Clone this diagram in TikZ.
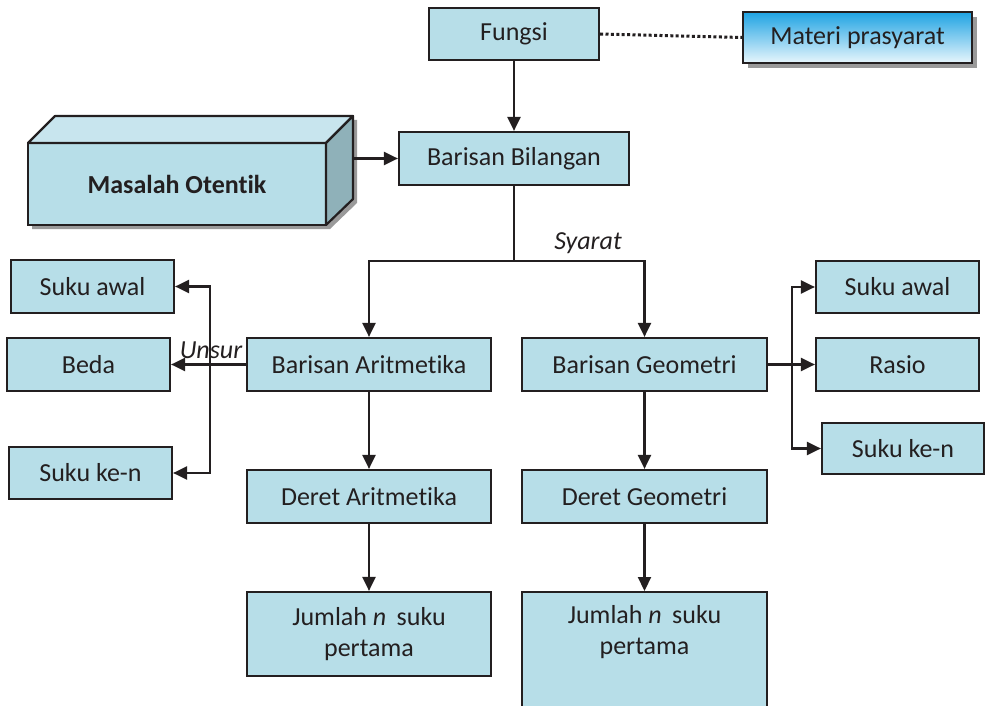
\documentclass[tikz,border=0pt]{standalone}
\usepackage{fontspec}
\setmainfont[Ligatures=NoCommon]{Carlito}
\usetikzlibrary{arrows.meta,shadows}
\definecolor{boxfill}{HTML}{B7DEE8}
\definecolor{boxline}{HTML}{231F20}
\definecolor{topface}{HTML}{C8E5EE}
\definecolor{sideface}{HTML}{8FB1B9}
\definecolor{shadowgrey}{HTML}{9A9A9A}
\definecolor{gradtop}{HTML}{1FA3E3}
\definecolor{gradbot}{HTML}{E8F6FC}
\tikzset{
  box/.style={draw=boxline, fill=boxfill, line width=2.2pt, rectangle, inner sep=0pt,
    align=center, text=boxline, font=\fontsize{26}{31}\selectfont},
  arr/.style={draw=boxline, line width=2.2pt, -{Triangle[length=14pt,width=13pt]}},
  conn/.style={draw=boxline, line width=2.2pt},
  lbl/.style={font=\fontsize{26}{31}\selectfont\itshape, text=boxline, inner sep=0pt}
}
\begin{document}
\begin{tikzpicture}[x=1pt,y=-1pt]
\path[use as bounding box] (0,0) rectangle (986,706);
\clip (0,0) rectangle (986,706);

% Masalah Otentik 3D box
\fill[shadowgrey] (32,147) -- (59,120) -- (357,120) -- (357,203) -- (330,229) -- (32,229) -- cycle;
\filldraw[fill=boxfill, draw=boxline, line width=2.2pt] (28,143) rectangle (326,225);
\filldraw[fill=topface, draw=boxline, line width=2.2pt, line join=round] (28,143) -- (55,116) -- (353,116) -- (326,143) -- cycle;
\filldraw[fill=sideface, draw=boxline, line width=2.2pt, line join=round] (326,143) -- (353,116) -- (353,199) -- (326,225) -- cycle;
\node[font=\fontsize{26}{31}\selectfont\bfseries, text=boxline] (mo) at (177,184) {Masalah Otentik};
\coordinate (moe) at (353,158.5);

% top
\node[box, minimum width=170pt, minimum height=52pt] (fungsi) at (514,34) {Fungsi};
\node[draw=boxline, line width=2.2pt, rectangle, inner sep=0pt, align=center, text=boxline,
  font=\fontsize{26}{31}\selectfont, top color=gradtop, bottom color=gradbot,
  drop shadow={shadow xshift=5pt, shadow yshift=-5pt, fill=shadowgrey, opacity=1},
  minimum width=229pt, minimum height=51pt] (materi) at (857.5,37.5) {Materi prasyarat};
\node[box, minimum width=230pt, minimum height=53pt] (bb) at (514,158.5) {Barisan Bilangan};

% middle
\node[box, minimum width=244pt, minimum height=53pt] (ba) at (369,364.5) {Barisan Aritmetika};
\node[box, minimum width=245pt, minimum height=53pt] (bg) at (644.5,364.5) {Barisan Geometri};
\node[box, minimum width=244pt, minimum height=53pt] (da) at (369,496.5) {Deret Aritmetika};
\node[box, minimum width=245pt, minimum height=53pt] (dg) at (644.5,496.5) {Deret Geometri};
\node[box, minimum width=244pt, minimum height=84pt] (ja) at (369,634) {Jumlah \textit{n}\hspace{0.4em}suku\\pertama};
\node[box, minimum width=245pt, minimum height=130pt, anchor=north] (jg) at (644.5,591) {};
\node[font=\fontsize{26}{31}\selectfont, text=boxline, align=center, inner sep=0pt] (jgt) at (644.5,632) {Jumlah \textit{n}\hspace{0.4em}suku\\pertama};

% left
\node[box, minimum width=163pt, minimum height=53pt] (sa1) at (92.5,286.5) {Suku awal};
\node[box, minimum width=163pt, minimum height=53pt] (beda) at (88.5,364.5) {Beda};
\node[box, minimum width=163pt, minimum height=52pt] (sk1) at (90.5,473) {Suku ke-n};

% right
\node[box, minimum width=163pt, minimum height=52pt] (sa2) at (897.5,287) {Suku awal};
\node[box, minimum width=163pt, minimum height=53pt] (rasio) at (897.5,364.5) {Rasio};
\node[box, minimum width=162pt, minimum height=51pt] (sk2) at (903,448.5) {Suku ke-n};

% connectors
\draw[conn, line width=3pt, dash pattern=on 3pt off 2.4pt] (fungsi.east) -- (materi.west);
\draw[arr] (fungsi.south) -- (bb.north);
\draw[arr] (moe) -- (bb.west);
\coordinate (sy) at (514,261);
\draw[conn] (bb.south) -- (sy);
\draw[arr] (sy) -| (ba.north);
\draw[arr] (sy) -| (bg.north);
\node[lbl] (syarat) at (588,243) {Syarat};

\coordinate (lj) at (210,364.5);
\draw[arr] (ba.west) -- (beda.east);
\draw[arr] (lj) |- (sa1.east);
\draw[arr] (lj) |- (sk1.east);
\node[lbl] (unsur) at (211,350) {Unsur};

\coordinate (rj) at (792,364.5);
\draw[arr] (bg.east) -- (rasio.west);
\draw[arr] (rj) |- (sa2.west);
\draw[arr] (rj) |- (sk2.west);

\draw[arr] (ba.south) -- (da.north);
\draw[arr] (bg.south) -- (dg.north);
\draw[arr] (da.south) -- (ja.north);
\draw[arr] (dg.south) -- (jg.north);
\end{tikzpicture}
\end{document}
